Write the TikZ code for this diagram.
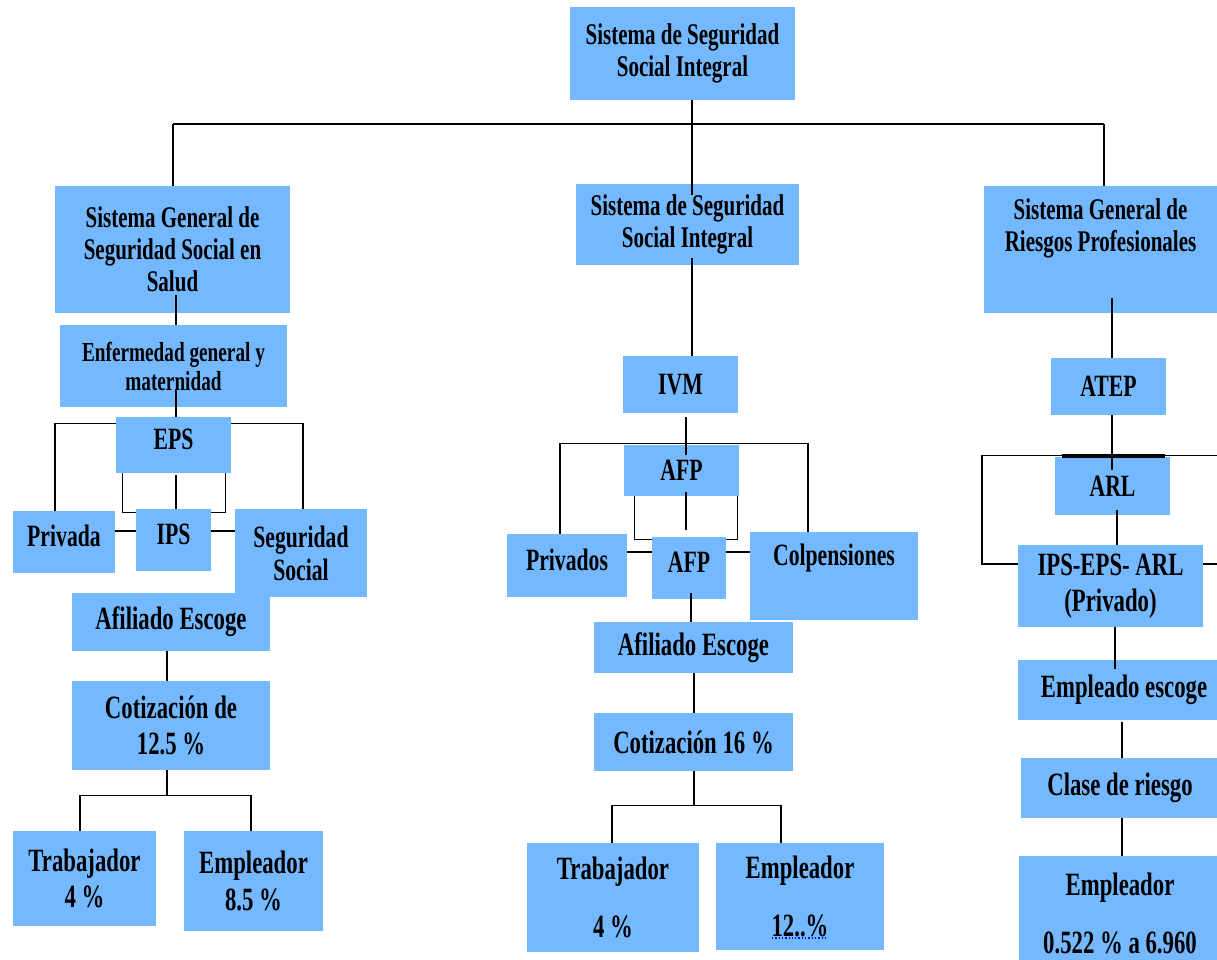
\documentclass[tikz,border=0pt]{standalone}
\usepackage{fontspec}
\setmainfont{Liberation Serif}[FakeStretch=0.7]
\usetikzlibrary{calc}
\definecolor{boxblue}{RGB}{116,185,255}
\tikzset{
  box/.style={fill=boxblue, inner sep=0pt, align=center},
  raised/.style={text height=21pt, text depth=12pt},
  conn/.style={line width=1.3pt, black},
  bus/.style={line width=2.6pt, black},
  fE/.style={font=\bfseries\fontsize{27.5}{29}\selectfont},
  fS/.style={font=\bfseries\fontsize{30}{32}\selectfont},
  fM/.style={font=\bfseries\fontsize{31}{33}\selectfont},
  fL/.style={font=\bfseries\fontsize{32.5}{36.5}\selectfont},
  fW/.style={font=\bfseries\fontsize{32.5}{58}\selectfont},
}
\begin{document}
\begin{tikzpicture}[x=1pt,y=-1pt]
\useasboundingbox (0,0) rectangle (1217,959);
% ---------- boxes ----------
\node[box,fS,minimum width=225pt,minimum height=93pt] (top) at (682.5,53.5) {Sistema de Seguridad\\Social Integral};
% left column
\node[box,fS,minimum width=235pt,minimum height=127pt] (salud) at (172.5,249.5) {Sistema General de\\Seguridad Social en\\Salud};
\node[box,fE,minimum width=227pt,minimum height=82pt] (enf) at (173.5,366) {Enfermedad general y\\maternidad};
\node[box,fM,raised,minimum width=115pt,minimum height=56pt] (eps) at (173.5,445) {EPS};
\node[box,fM,raised,minimum width=102pt,minimum height=62pt] (privada) at (64,542) {Privada};
\node[box,fM,raised,minimum width=75pt,minimum height=62pt] (ips) at (173.5,540) {IPS};
\node[box,fM,minimum width=132pt,minimum height=88pt] (ss) at (301,553) {Seguridad\\Social};
\node[box,fL,minimum width=198pt,minimum height=58pt] (afilL) at (171,622) {Afiliado Escoge};
\node[box,fL,minimum width=198pt,minimum height=89pt] (cotL) at (171,725.5) {Cotización de\\12.5 \%};
\node[box,fL,minimum width=143pt,minimum height=95pt] (trabL) at (84.5,878.5) {Trabajador\\4 \%};
\node[box,fL,minimum width=139pt,minimum height=100pt] (empL) at (253.5,881) {Empleador\\8.5 \%};
% middle column
\node[box,fS,minimum width=223pt,minimum height=81pt] (ssi) at (687.5,224.5) {Sistema de Seguridad\\Social Integral};
\node[box,fM,minimum width=115pt,minimum height=57pt] (ivm) at (680.5,384.5) {IVM};
\node[box,fM,minimum width=115pt,minimum height=51pt] (afp1) at (681.5,470.5) {AFP};
\node[box,fM,raised,minimum width=120pt,minimum height=63pt] (privados) at (567,565.5) {Privados};
\node[box,fM,raised,minimum width=74pt,minimum height=62pt] (afp2) at (689,568) {AFP};
\node[box,minimum width=168pt,minimum height=88pt,
      label={[fM,yshift=18pt]center:Colpensiones}] (colp) at (834,576) {};
\node[box,fL,minimum width=199pt,minimum height=51pt] (afilM) at (693.5,647.5) {Afiliado Escoge};
\node[box,fL,minimum width=199pt,minimum height=58pt] (cotM) at (693.5,742) {Cotización 16 \%};
\node[box,fW,minimum width=172pt,minimum height=109pt] (trabM) at (613,897.5) {Trabajador\\4 \%};
\node[box,fW,minimum width=168pt,minimum height=107pt] (empM) at (800,896.5) {Empleador\\12..\%};
% right column
\node[box,minimum width=233pt,minimum height=127pt,
      label={[fS,align=center,yshift=21pt]center:{Sistema General de\\Riesgos Profesionales}}] (rp) at (1100.5,249.5) {};
\node[box,fM,minimum width=115pt,minimum height=57pt] (atep) at (1108.5,386.5) {ATEP};
\node[box,fM,minimum width=115pt,minimum height=58pt] (arl) at (1112.5,486) {ARL};
\node[box,fL,minimum width=185pt,minimum height=82pt] (iea) at (1110.5,586) {IPS-EPS- ARL\\(Privado)};
\node[box,fL,minimum width=212pt,minimum height=60pt] (empesc) at (1124,690) {Empleado escoge};
\node[box,fL,minimum width=198pt,minimum height=60pt] (clase) at (1120,788) {Clase de riesgo};
\node[box,fW,minimum width=202pt,minimum height=114pt] (empR) at (1120,913) {Empleador\\0.522 \% a 6.960};
% ---------- connectors ----------
% top level
\draw[conn] ($(top.south)+(9.5,0)$) -- ($(ssi.north)+(4.5,11)$);
\draw[bus] ($(salud.north)+(0.5,-62)$) -- ($(rp.north)+(3.5,-62)$);
\draw[conn] ($(salud.north)+(0.5,-62)$) -- ($(salud.north)+(0.5,0)$);
\draw[conn] ($(rp.north)+(3.5,-62)$) -- ($(rp.north)+(3.5,0)$);
% left column
\draw[conn] ($(salud.south)+(3.5,-18)$) -- ($(enf.north)+(2.5,0)$);
\draw[conn] ($(enf.south)+(2.5,-17)$) -- ($(eps.north)+(2.5,0)$);
\draw[conn] ($(eps.north west)+(0,7)$) -| ($(privada.north)+(-9,0)$);
\draw[conn] ($(eps.north east)+(0,7)$) -| ($(ss.north)+(2,0)$);
\draw[conn] ($(eps.south west)+(7,0)$) |- ($(ips.north west)+(0,4)$);
\draw[conn] ($(eps.south east)+(-6,0)$) |- ($(ips.north east)+(0,4)$);
\draw[conn] ($(eps.south)+(2.5,2)$) -- ($(ips.north)+(2.5,0)$);
\draw[conn] ($(privada.east)+(0,-11)$) -- ($(ips.west)+(0,-9)$);
\draw[conn] ($(ips.east)+(0,-9)$) -- ($(ss.west)+(0,-22)$);
\draw[conn] ($(afilL.south)+(-4,0)$) -- ($(cotL.north)+(-4,0)$);
\draw[conn] ($(cotL.south)+(-4,0)$) -- ($(cotL.south)+(-4,26)$);
\draw[conn] ($(trabL.north)+(-4.5,0)$) |- ($(empL.north)+(-2.5,-35)$) -- ($(empL.north)+(-2.5,0)$);
% middle column
\draw[conn] ($(ssi.south)+(4.5,-7)$) -- ($(ivm.north)+(11.5,0)$);
\draw[conn] ($(ivm.south)+(5.5,4)$) -- ($(afp1.north)+(4.5,10)$);
\draw[conn] ($(privados.north)+(-7,0)$) |- ($(afp1.north)+(0,-1)$) -| ($(colp.north)+(-26,0)$);
\draw[conn] ($(afp1.south west)+(11,0)$) |- ($(afp2.north west)+(0,3)$);
\draw[conn] ($(afp1.south east)+(-2,0)$) |- ($(afp2.north east)+(0,3)$);
\draw[conn] ($(afp1.south)+(4.5,-4)$) -- ($(afp2.north)+(-3,-7)$);
\draw[conn] ($(privados.east)+(0,-13.5)$) -- ($(afp2.west)+(0,-16)$);
\draw[conn] ($(afp2.east)+(0,-16)$) -- ($(colp.west)+(0,-24)$);
\draw[conn] ($(afp2.south)+(2,-6)$) -- ($(afilM.north)+(-2.5,0)$);
\draw[conn] ($(afilM.south)+(0.5,0)$) -- ($(cotM.north)+(0.5,0)$);
\draw[conn] ($(cotM.south)+(0.5,0)$) -- ($(cotM.south)+(0.5,35)$);
\draw[conn] ($(trabM.north)+(-1,0)$) |- ($(empM.north)+(-19,-37)$) -- ($(empM.north)+(-19,0)$);
\draw[blue, dotted, line width=1.3pt] ($(empM.center)+(-28,41.5)$) -- ($(empM.center)+(28,41.5)$);
% right column
\draw[conn] ($(rp.south)+(11.5,-15)$) -- ($(atep.north)+(3.5,0)$);
\draw[conn] ($(atep.south)+(3.5,0)$) -- ($(arl.north)+(-0.5,13)$);
\draw[conn] ($(iea.west)+(0,-22)$) -| ($(arl.north)+(-130.5,-1)$) -- ($(arl.north)+(117.5,-1)$) |- ($(iea.east)+(0,-22)$);
\draw[line width=4pt] ($(arl.north west)+(7,-1)$) -- ($(arl.north east)+(-5,-1)$);
\draw[conn] ($(arl.south)+(4.5,-5)$) -- ($(iea.north)+(6.5,0)$);
\draw[conn] ($(iea.south)+(4.5,0)$) -- ($(empesc.north)+(-9,9)$);
\draw[conn] ($(empesc.south)+(-2,2)$) -- ($(clase.north)+(2,0)$);
\draw[conn] ($(clase.south)+(2,0)$) -- ($(empR.north)+(2,0)$);
\end{tikzpicture}
\end{document}
